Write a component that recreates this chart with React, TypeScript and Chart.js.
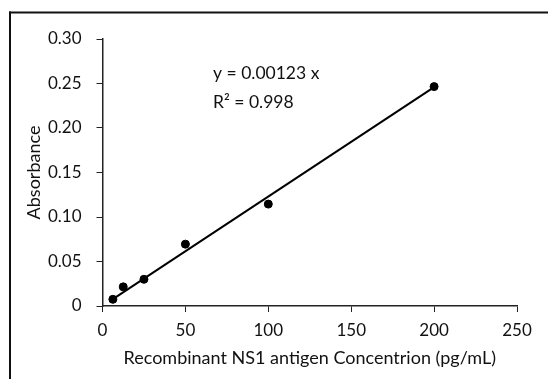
import React, { useEffect, useRef } from "react";
import { Chart, registerables } from "chart.js";

Chart.register(...registerables);

const concentrations = [6.25, 12.5, 25, 50, 100, 200];
const absorbance = [0.0075, 0.0215, 0.030, 0.0695, 0.1145, 0.2465];
const slope = 0.00123;
const rSquared = "0.998";
const xTicks = [0, 50, 100, 150, 200, 250];
const yTicks = [0, 0.05, 0.1, 0.15, 0.2, 0.25, 0.3];

const FONT = "Lato, 'Open Sans', sans-serif";

export default function App() {
  const ref = useRef<HTMLCanvasElement | null>(null);

  useEffect(() => {
    if (!ref.current) return;
    const xMin = Math.min(...concentrations);
    const xMax = Math.max(...concentrations);
    const trend = [
      { x: xMin, y: slope * xMin },
      { x: xMax, y: slope * xMax },
    ];
    const framePlugin = {
      id: "frame",
      beforeDraw(chart: any) {
        const c = chart.ctx;
        c.save();
        c.fillStyle = "#fff";
        c.fillRect(0, 0, chart.width, chart.height);
        c.fillStyle = "#111";
        c.fillRect(9, 11.5, chart.width, 2);
        c.fillRect(9, 11.5, 2, chart.height);
        c.restore();
      },
      afterDraw(chart: any) {
        const c = chart.ctx;
        c.save();
        c.fillStyle = "#111";
        c.font = `17.5px ${FONT}`;
        c.textBaseline = "middle";
        c.textAlign = "left";
        c.fillText(`y = ${slope} x`, 213, 73);
        c.fillText(`R² = ${rSquared}`, 213, 102);
        c.restore();
      },
    };
    const chart = new Chart(ref.current, {
      type: "scatter",
      data: {
        datasets: [
          {
            label: "data",
            data: concentrations.map((x, i) => ({ x, y: absorbance[i] })),
            backgroundColor: "#000",
            borderColor: "#000",
            pointRadius: 4,
            order: 0,
          },
          {
            label: "trend",
            data: trend,
            showLine: true,
            borderColor: "#000",
            borderWidth: 2,
            pointRadius: 0,
            order: 1,
          } as any,
        ],
      },
      options: {
        responsive: false,
        animation: false,
        devicePixelRatio: 1,
        layout: { padding: { left: 0, top: 39, right: 31, bottom: 0 } },
        plugins: { legend: { display: false }, tooltip: { enabled: false } },
        scales: {
          x: {
            type: "linear",
            min: 0,
            max: 250,
            afterBuildTicks: (s: any) => {
              s.ticks = xTicks.map((v) => ({ value: v }));
            },
            afterFit: (s: any) => {
              s.height = 73;
            },
            grid: {
              drawOnChartArea: false,
              drawTicks: true,
              tickLength: 6,
              color: "#222",
              tickColor: "#222",
            },
            border: { color: "#222", width: 1.5 },
            ticks: {
              color: "#111",
              font: { family: FONT, size: 17 },
              padding: 8,
              maxRotation: 0,
            },
            title: {
              display: true,
              text: "Recombinant NS1 antigen Concentrion (pg/mL)",
              color: "#111",
              font: { family: FONT, size: 18 },
              padding: { top: 0, bottom: 10 },
            },
          },
          y: {
            type: "linear",
            min: 0,
            max: 0.3,
            afterBuildTicks: (s: any) => {
              s.ticks = yTicks.map((v) => ({ value: v }));
            },
            afterFit: (s: any) => {
              s.width = 102.5;
            },
            grid: {
              drawOnChartArea: false,
              drawTicks: true,
              tickLength: 6,
              color: "#222",
              tickColor: "#222",
            },
            border: { color: "#222", width: 1.5 },
            ticks: {
              color: "#111",
              font: { family: FONT, size: 17 },
              padding: 15,
              callback: (v: any) => (Number(v) === 0 ? "0" : Number(v).toFixed(2)),
            },
            title: {
              display: true,
              text: "Absorbance",
              color: "#111",
              font: { family: FONT, size: 18 },
              padding: { top: 23, bottom: 0 },
            },
          },
        },
      },
      plugins: [framePlugin],
    });
    return () => chart.destroy();
  }, []);

  return (
    <div style={{ position: "fixed", left: 0, top: 0, width: 548, height: 379 }}>
      <canvas ref={ref} width={548} height={379} />
    </div>
  );
}
